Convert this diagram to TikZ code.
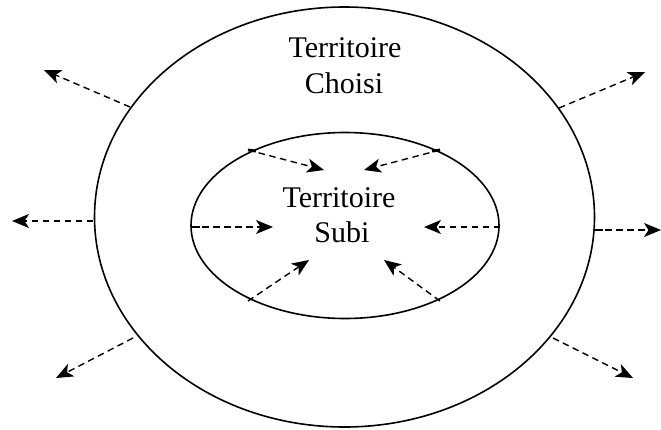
\documentclass[tikz,border=0pt]{standalone}
\usepackage{fontspec}
\setmainfont{Liberation Serif}
\usetikzlibrary{arrows.meta,shapes.geometric}
\tikzset{
  ring/.style={draw,line width=1.6pt},
  flow/.style={dash pattern=on 6.5pt off 4.5pt,line width=1.4pt,-{Stealth[length=17pt,width=14pt,inset=4.5pt]}},
  tick/.style={line width=2.8pt},
  lbl/.style={font=\fontsize{30}{36}\selectfont,inner sep=0pt,anchor=base}
}
\begin{document}
\begin{tikzpicture}[x=1pt,y=-1pt]
\useasboundingbox (0,0) rectangle (661,429);
\draw[ring] (344.5,217) ellipse [x radius=250, y radius=210];
\draw[ring] (345,225.5) ellipse [x radius=154, y radius=93];
\node[lbl] (c1) at (345,57) {Territoire};
\node[lbl] (c2) at (344,93) {Choisi};
\node[lbl] (s1) at (339,207) {Territoire};
\node[lbl] (s2) at (342,242) {Subi};
% outer arrows
\coordinate (o1s) at (130,107); \coordinate (o1e) at (44,70);
\coordinate (o2s) at (93,221);  \coordinate (o2e) at (12,221);
\coordinate (o3s) at (559,108); \coordinate (o3e) at (645,72);
\coordinate (o4s) at (594,230); \coordinate (o4e) at (661,230);
\coordinate (o5s) at (133,338); \coordinate (o5e) at (56,378);
\coordinate (o6s) at (553,338); \coordinate (o6e) at (633,378);
\draw[flow] (o1s) -- (o1e);
\draw[flow] (o2s) -- (o2e);
\draw[flow] (o3s) -- (o3e);
\draw[flow] (o4s) -- (o4e);
\draw[flow] (o5s) -- (o5e);
\draw[flow] (o6s) -- (o6e);
\draw[tick] (594,230) -- (603,230);
% inner arrows
\coordinate (i1s) at (248,150); \coordinate (i1e) at (324,170);
\coordinate (i2s) at (440,150); \coordinate (i2e) at (364,170);
\coordinate (i3s) at (191,227); \coordinate (i3e) at (273,227);
\coordinate (i4s) at (500,227); \coordinate (i4e) at (424,227);
\coordinate (i5s) at (248,301); \coordinate (i5e) at (309,260);
\coordinate (i6s) at (440,301); \coordinate (i6e) at (384,260);
\draw[flow] (i1s) -- (i1e);
\draw[flow] (i2s) -- (i2e);
\draw[flow] (i3s) -- (i3e);
\draw[flow] (i4s) -- (i4e);
\draw[flow] (i5s) -- (i5e);
\draw[flow] (i6s) -- (i6e);
\draw[tick] (248,150) -- (256,151);
\draw[tick] (440,150) -- (432,151);
\draw[tick] (191,227) -- (200,227);
\end{tikzpicture}
\end{document}
